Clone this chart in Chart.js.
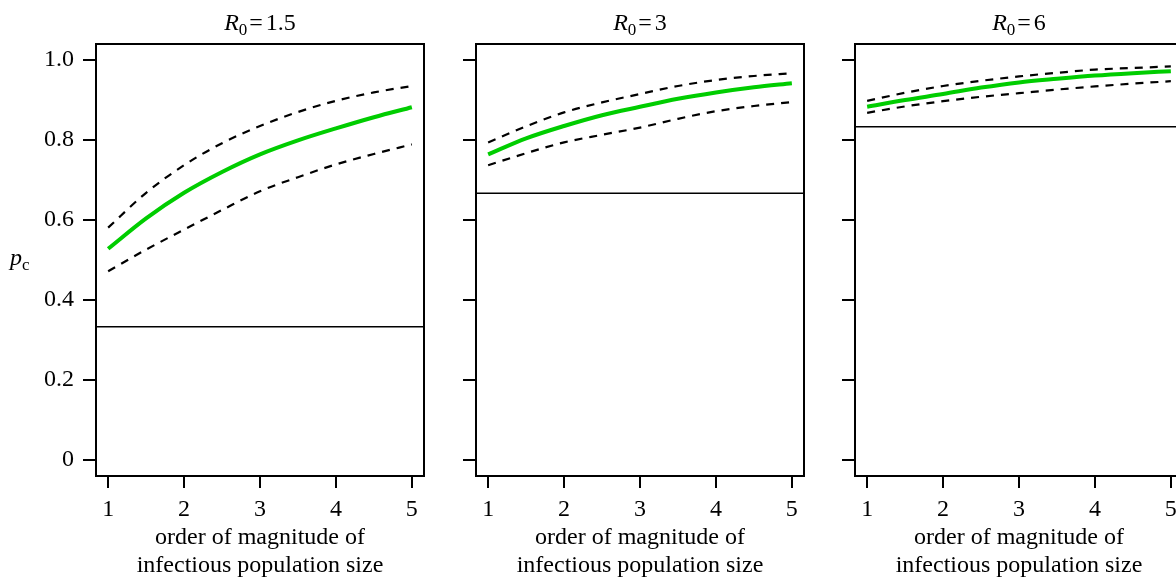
<!DOCTYPE html>
<html>
<head>
<meta charset="utf-8">
<script src="https://cdn.jsdelivr.net/npm/chart.js@4.4.0/dist/chart.umd.min.js"></script>
<style>
  html, body { margin: 0; padding: 0; background: #fff; overflow: hidden; }
  #wrap { position: relative; width: 1176px; height: 580px; overflow: hidden; }
  canvas { position: absolute; top: 0; }
</style>
</head>
<body>
<div id="wrap">
  <canvas id="panel0" width="440" height="580" style="left:0px"></canvas>
  <canvas id="panel1" width="440" height="580" style="left:380px"></canvas>
  <canvas id="panel2" width="440" height="580" style="left:759px"></canvas>
</div>
<script>
// axis ticks
const xTicks = [1, 2, 3, 4, 5];
const yTicks = [0, 0.2, 0.4, 0.6, 0.8, 1.0];
const yTickLabels = ['0', '0.2', '0.4', '0.6', '0.8', '1.0'];
const xLabel = ['order of magnitude of', 'infectious population size'];

// sample positions along x (order of magnitude)
const xs = [1, 1.5, 2, 2.5, 3, 3.5, 4, 4.5, 5];

// panels
const r0Labels = ['1.5', '3', '6'];
const thresholds = [0.333, 0.667, 0.833];   // horizontal line, 1 - 1/R0

// R0 = 1.5
const fitA   = [0.528, 0.604, 0.668, 0.720, 0.764, 0.799, 0.829, 0.857, 0.882];
const upperA = [0.581, 0.668, 0.737, 0.792, 0.835, 0.870, 0.898, 0.919, 0.935];
const lowerA = [0.472, 0.526, 0.576, 0.625, 0.672, 0.707, 0.739, 0.765, 0.789];
// R0 = 3
const fitB   = [0.764, 0.804, 0.835, 0.862, 0.883, 0.903, 0.919, 0.932, 0.942];
const upperB = [0.794, 0.834, 0.869, 0.894, 0.915, 0.935, 0.950, 0.960, 0.967];
const lowerB = [0.737, 0.767, 0.794, 0.813, 0.831, 0.853, 0.872, 0.885, 0.895];
// R0 = 6
const fitC   = [0.883, 0.900, 0.915, 0.931, 0.944, 0.953, 0.961, 0.967, 0.972];
const upperC = [0.898, 0.918, 0.935, 0.948, 0.959, 0.968, 0.976, 0.980, 0.984];
const lowerC = [0.868, 0.884, 0.897, 0.908, 0.917, 0.926, 0.934, 0.941, 0.947];

const X_MIN = 0.84, X_MAX = 5.16;
const Y_MIN = -0.04, Y_MAX = 1.04;
const SERIF = '"Liberation Serif", "Times New Roman", serif';

Chart.defaults.font.family = SERIF;
Chart.defaults.font.size = 24;
Chart.defaults.color = '#000';

const pts = ys => xs.map((x, i) => ({ x, y: ys[i] }));

// draws a run of text pieces (italic / subscript) one after another
function drawPieces(ctx, pieces, x, y, align) {
    let total = 0;
    pieces.forEach(p => {
        ctx.font = p.font;
        p.w = ctx.measureText(p.text).width;
        total += p.w + (p.gap || 0);
    });
    let cx = align === 'center' ? x - total / 2 : x;
    ctx.textBaseline = 'alphabetic';
    ctx.textAlign = 'left';
    pieces.forEach(p => {
        cx += p.gap || 0;
        ctx.font = p.font;
        ctx.fillText(p.text, cx, y + (p.dy || 0));
        cx += p.w;
    });
}

// box around plot + R0 title (+ p_c label on first panel)
const panelDeco = {
    id: 'panelDeco',
    afterDraw(chart, args, opts) {
        const ctx = chart.ctx;
        const a = chart.chartArea;
        ctx.save();
        ctx.strokeStyle = '#000';
        ctx.lineWidth = 2;
        ctx.strokeRect(a.left, a.top, a.right - a.left, a.bottom - a.top);
        ctx.fillStyle = '#000';
        drawPieces(ctx, [
            { text: 'R', font: 'italic 24px ' + SERIF },
            { text: '0', font: '17px ' + SERIF, dy: 5 },
            { text: '=', font: '24px ' + SERIF, gap: 2 },
            { text: opts.value, font: '24px ' + SERIF, gap: 3 }
        ], (a.left + a.right) / 2, 30, 'center');
        if (opts.yLabel) {
            drawPieces(ctx, [
                { text: 'p', font: 'italic 24px ' + SERIF },
                { text: 'c', font: '17px ' + SERIF, dy: 5, gap: 0 }
            ], 10, 265, 'left');
        }
        ctx.restore();
    }
};

function makePanel(id, idx, fit, upper, lower) {
    const first = idx === 0;
    new Chart(document.getElementById(id), {
        type: 'line',
        data: {
            datasets: [
                {
                    data: [{ x: X_MIN, y: thresholds[idx] }, { x: X_MAX, y: thresholds[idx] }],
                    borderColor: '#000', borderWidth: 1.6
                },
                { data: pts(lower), borderColor: '#000', borderWidth: 2.2, borderDash: [8, 7] },
                { data: pts(upper), borderColor: '#000', borderWidth: 2.2, borderDash: [8, 7] },
                { data: pts(fit), borderColor: '#00cd00', borderWidth: 4 }
            ]
        },
        options: {
            responsive: false,
            animation: false,
            events: [],
            layout: { padding: { top: 44, right: 16, left: 0, bottom: 0 } },
            elements: {
                point: { radius: 0 },
                line: { cubicInterpolationMode: 'monotone', borderCapStyle: 'butt' }
            },
            plugins: {
                legend: { display: false },
                tooltip: { enabled: false },
                panelDeco: { value: r0Labels[idx], yLabel: first }
            },
            scales: {
                x: {
                    type: 'linear',
                    min: X_MIN, max: X_MAX,
                    afterBuildTicks: s => { s.ticks = xTicks.map(v => ({ value: v })); },
                    afterFit: s => { s.height = 104; },
                    border: { display: false },
                    grid: { drawOnChartArea: false, drawTicks: true, tickLength: 12, color: '#000', lineWidth: 2 },
                    ticks: { padding: 7, maxRotation: 0, autoSkip: false, callback: v => String(v) },
                    title: {
                        display: true,
                        text: xLabel,
                        font: { size: 24, lineHeight: 1.167 },
                        padding: { top: 0, bottom: 0 }
                    }
                },
                y: {
                    type: 'linear',
                    min: Y_MIN, max: Y_MAX,
                    afterBuildTicks: s => { s.ticks = yTicks.map(v => ({ value: v })); },
                    afterFit: s => { s.width = 96; },
                    border: { display: false },
                    grid: { drawOnChartArea: false, drawTicks: true, tickLength: 13, color: '#000', lineWidth: 2 },
                    ticks: { display: first, padding: 9, callback: (v, i) => yTickLabels[i] }
                }
            }
        },
        plugins: [panelDeco]
    });
}

makePanel('panel0', 0, fitA, upperA, lowerA);
makePanel('panel1', 1, fitB, upperB, lowerB);
makePanel('panel2', 2, fitC, upperC, lowerC);
</script>
</body>
</html>
